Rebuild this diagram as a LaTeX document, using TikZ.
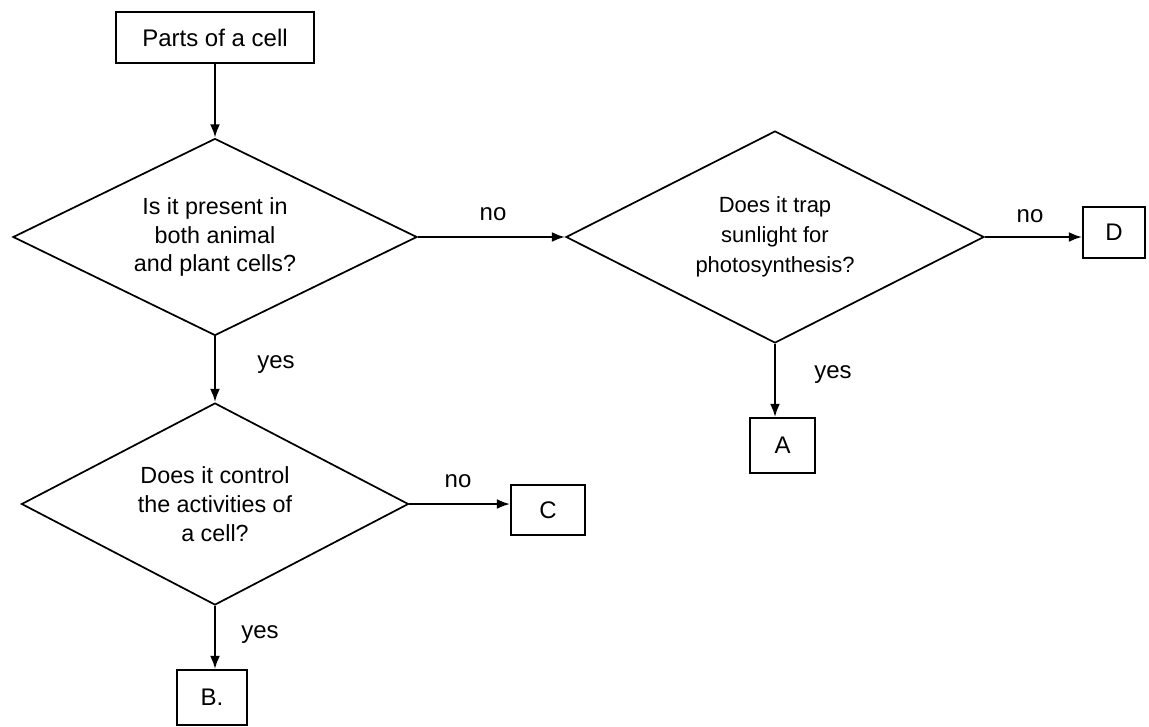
\documentclass[tikz,border=0pt]{standalone}
\usepackage{fontspec}
\setmainfont{Liberation Sans}
\usetikzlibrary{shapes.geometric,arrows.meta}
\begin{document}
\begin{tikzpicture}[x=0.75pt,y=-0.75pt,
  box/.style={draw,line width=1.3pt,rectangle,inner sep=0pt,font=\fontsize{18}{22}\selectfont},
  decision/.style={draw,line width=1.3pt,diamond,aspect=2,inner sep=0pt,align=center,
    font=\fontsize{17.5}{21.5}\selectfont},
  flow/.style={line width=1.7pt,-{Latex[length=10pt,width=7.5pt]}},
  lbl/.style={font=\fontsize{18}{22}\selectfont,inner sep=0pt}]
\useasboundingbox (0,0) rectangle (1149,726);
\node[box,minimum width=148.5pt,minimum height=38.25pt] (title) at (215,37.5) {Parts of a cell};
\node[decision,minimum width=303pt,minimum height=147.75pt] (d1) at (215,237) {Is it present in\\both animal\\and plant cells?};
\node[decision,minimum width=313.5pt,minimum height=159pt,font=\fontsize{16.5}{22.5}\selectfont] (d2) at (775,237) {Does it trap\\sunlight for\\photosynthesis?};
\node[decision,minimum width=290.25pt,minimum height=151.5pt] (d3) at (215,504) {Does it control\\the activities of\\a cell?};
\node[box,minimum width=46.5pt,minimum height=38.25pt] (D) at (1114,232.5) {D};
\node[box,minimum width=48.75pt,minimum height=41.25pt] (A) at (782.5,445.5) {A};
\node[box,minimum width=55.5pt,minimum height=37.5pt] (C) at (548,510) {C};
\node[box,minimum width=52.5pt,minimum height=41.25pt] (B) at (212,697.5) {B.};
\draw[flow] (title.south -| d1.north) -- (d1.north);
\draw[flow] (d1.east) -- (d2.west);
\draw[flow] (d2.east) -- (d2.east -| D.west);
\draw[flow] (d2.south) -- (d2.south |- A.north);
\draw[flow] (d1.south) -- (d3.north);
\draw[flow] (d3.east) -- (d3.east -| C.west);
\draw[flow] (d3.south) -- (d3.south |- B.north);
\node[lbl] (l1) at (493,214) {no};
\node[lbl] (l2) at (1030,216) {no};
\node[lbl] (l3) at (833,375) {yes};
\node[lbl] (l4) at (276,365) {yes};
\node[lbl] (l5) at (458,481) {no};
\node[lbl] (l6) at (260,635) {yes};
\end{tikzpicture}
\end{document}
